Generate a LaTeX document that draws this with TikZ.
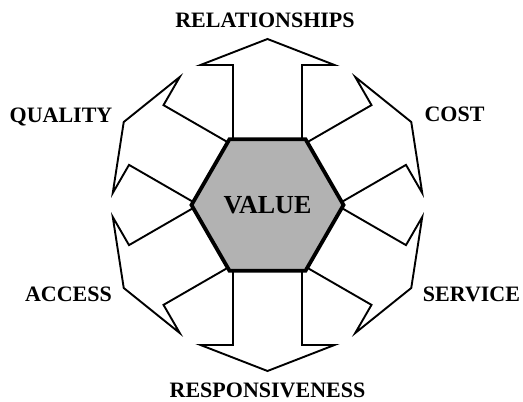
\documentclass[tikz,border=0pt]{standalone}
\usepackage{fontspec}
\setmainfont{Liberation Serif}
\usepackage{tikz}
\usetikzlibrary{shapes.geometric}

\tikzset{
  fleche/.style={draw=black,fill=white,line width=1.9pt,line join=miter},
  etiquette/.style={font=\bfseries\fontsize{22}{26}\selectfont,anchor=base,inner sep=0pt},
  hexa/.style={regular polygon,regular polygon sides=6,minimum size=152pt,inner sep=0pt,
    draw=black,fill=black!30,line width=3.8pt,font=\bfseries\fontsize{26}{30}\selectfont}
}

\begin{document}
\begin{tikzpicture}[x=1pt,y=1pt]
            \useasboundingbox (0,0) rectangle (523,402);
            \coordinate (O) at (267.5,197);
            % les six fleches
            \foreach \a in {90,30,-30,-90,-150,150}
            {
              \draw[fleche,shift={(O)},rotate=\a] (55,-34.5) -- (140,-34.5) -- (140,-67) -- (166,0)
                -- (140,67) -- (140,34.5) -- (55,34.5) -- cycle;
            }
            \node[hexa] (V) at (O) {VALUE};
            \node[etiquette] (R) at (265,374.5) {RELATIONSHIPS};
            \node[etiquette] (Q) at (61,279) {QUALITY};
            \node[etiquette] (C) at (454.5,280) {COST};
            \node[etiquette] (A) at (68.5,100) {ACCESS};
            \node[etiquette] (S) at (471.5,100) {SERVICE};
            \node[etiquette] (P) at (267.5,4) {RESPONSIVENESS};
        \end{tikzpicture}
\end{document}
